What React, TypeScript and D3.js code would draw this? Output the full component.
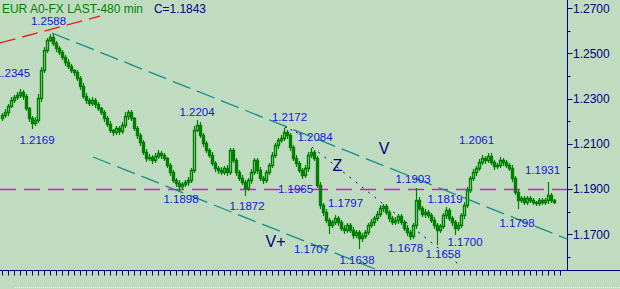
import React from "react";
import * as d3 from "d3";

const W = 620;
const H = 289;

// closing prices, one per 480-min bar
const closes = [
  1.2228, 1.2241, 1.2268, 1.2294, 1.2308, 1.2316, 1.233, 1.2312, 1.2259, 1.2215,
  1.2192, 1.2206, 1.2303, 1.2427, 1.2515, 1.256, 1.2573, 1.2546, 1.2524, 1.2507,
  1.2485, 1.2462, 1.2445, 1.2427, 1.2418, 1.2392, 1.2356, 1.2312, 1.2294, 1.2281,
  1.2294, 1.2277, 1.2259, 1.2241, 1.2215, 1.2188, 1.2162, 1.2153, 1.217, 1.2157,
  1.2184, 1.2224, 1.2241, 1.2215, 1.217, 1.2139, 1.2108, 1.2064, 1.2038, 1.2042,
  1.2029, 1.2046, 1.206, 1.2051, 1.2038, 1.2007, 1.1976, 1.194, 1.1927, 1.1914,
  1.1923, 1.1931, 1.194, 1.1985, 1.2162, 1.2184, 1.2139, 1.2104, 1.2073, 1.2051,
  1.2016, 1.1993, 1.1985, 1.1976, 1.1993, 1.1976, 1.2073, 1.2029, 1.1976, 1.1949,
  1.1931, 1.1905, 1.194, 1.1976, 1.2029, 1.1985, 1.1949, 1.194, 1.1976, 1.2007,
  1.2051, 1.2095, 1.2117, 1.2126, 1.2153, 1.2139, 1.2086, 1.2038, 1.2016, 1.1985,
  1.1962, 1.1993, 1.2051, 1.2064, 1.2038, 1.1918, 1.183, 1.1799, 1.1763, 1.1741,
  1.1754, 1.1772, 1.1754, 1.1728, 1.1719, 1.1741, 1.1719, 1.1697, 1.171, 1.1684,
  1.1692, 1.171, 1.1741, 1.1754, 1.1772, 1.179, 1.1816, 1.1825, 1.1799, 1.1772,
  1.1754, 1.1763, 1.1781, 1.1754, 1.1728, 1.171, 1.1692, 1.1741, 1.1852, 1.1816,
  1.179, 1.1799, 1.1785, 1.1763, 1.1741, 1.1719, 1.1737, 1.1785, 1.1808, 1.1772,
  1.1754, 1.1728, 1.1741, 1.1785, 1.183, 1.1896, 1.1949, 1.1976, 1.1993, 1.202,
  1.2038, 1.2029, 1.2046, 1.202, 1.2002, 1.2007, 1.2029, 1.202, 1.2007, 1.1993,
  1.1949, 1.1887, 1.1852, 1.1861, 1.1843, 1.1861, 1.1852, 1.1843, 1.1839, 1.1852,
  1.1843, 1.1852, 1.1874, 1.1852, 1.1843,
];
const firstOpen = 1.2215;

// wick lengths in pips above / below the candle body
const upperWick = [
  10, 12, 8, 15, 10, 12, 15, 8, 10, 6,
  8, 12, 20, 15, 12, 10, 15, 12, 10, 8,
  10, 8, 12, 10, 6, 8, 10, 12, 15, 10,
  12, 8, 10, 6, 8, 10, 12, 6, 10, 8,
  12, 15, 10, 8, 6, 10, 8, 10, 12, 15,
  10, 12, 15, 10, 8, 6, 10, 8, 10, 12,
  8, 10, 12, 10, 15, 20, 12, 10, 8, 10,
  12, 10, 8, 15, 10, 12, 8, 10, 8, 10,
  12, 8, 10, 15, 10, 8, 12, 10, 8, 10,
  12, 8, 10, 12, 19, 10, 8, 10, 12, 8,
  10, 12, 15, 20, 10, 8, 12, 10, 15, 8,
  10, 12, 8, 10, 12, 8, 10, 12, 8, 10,
  12, 10, 8, 12, 10, 15, 12, 10, 8, 10,
  8, 12, 10, 8, 10, 12, 8, 10, 51, 12,
  10, 12, 8, 10, 12, 10, 8, 10, 11, 10,
  8, 10, 12, 10, 12, 15, 10, 12, 10, 12,
  15, 10, 15, 12, 10, 8, 12, 10, 8, 10,
  12, 8, 10, 8, 10, 8, 10, 8, 6, 8,
  10, 8, 57, 8, 6,
];
const lowerWick = [
  10, 8, 12, 6, 10, 8, 10, 12, 10, 15,
  23, 10, 8, 12, 10, 8, 6, 10, 12, 10,
  8, 12, 10, 8, 12, 10, 15, 10, 12, 8,
  10, 12, 8, 10, 12, 10, 8, 12, 10, 15,
  8, 10, 12, 10, 8, 12, 15, 10, 12, 8,
  15, 10, 8, 12, 10, 8, 12, 10, 15, 16,
  10, 8, 12, 10, 8, 6, 10, 12, 10, 8,
  10, 12, 15, 10, 8, 12, 10, 8, 12, 10,
  8, 33, 10, 12, 8, 15, 10, 12, 8, 10,
  8, 10, 12, 8, 10, 12, 15, 10, 12, 10,
  15, 8, 12, 10, 8, 10, 15, 12, 10, 34,
  10, 8, 12, 10, 12, 10, 8, 12, 10, 46,
  12, 10, 8, 10, 12, 8, 10, 12, 10, 12,
  10, 8, 12, 10, 8, 12, 14, 10, 12, 10,
  8, 12, 10, 8, 12, 61, 10, 8, 12, 10,
  12, 28, 10, 8, 12, 10, 8, 10, 12, 8,
  10, 12, 8, 10, 12, 8, 10, 12, 10, 8,
  12, 10, 35, 8, 10, 8, 10, 8, 10, 8,
  8, 10, 12, 8, 6,
];

// right axis
const majorTicks = [1.27, 1.25, 1.23, 1.21, 1.19, 1.17];
const minorTicks = [1.26, 1.24, 1.22, 1.2, 1.18, 1.16];

// zigzag pivot labels: text, bar position, price level of baseline
const pivotTexts = ["1.2588", "1.2345", "1.2169", "1.2204", "1.1898", "1.1872", "1.2172", "1.2084", "1.1965", "1.1797", "1.1707", "1.1638", "1.1678", "1.1658", "1.1700", "1.1903", "1.1819", "1.2061", "1.1931", "1.1798"];
const pivotIdx = [15.33, 3.33, 11.5, 64.83, 59.5, 81.5, 95.67, 104.17, 97.67, 114.33, 103, 118.17, 134.33, 146.83, 154.17, 136.83, 147.5, 158, 180, 171.5];
const pivotLevel = [1.26261, 1.23973, 1.20982, 1.22248, 1.18372, 1.18075, 1.22027, 1.21142, 1.18827, 1.18221, 1.16159, 1.15686, 1.1623, 1.15938, 1.16482, 1.19257, 1.18398, 1.20982, 1.19668, 1.17336];

// wave marks
const waveTexts = ["V", "Z", "V+"];
const waveIdx = [127.17, 111.67, 91];
const waveLevel = [1.2054, 1.19814, 1.16451];

// drawn lines: [startIdx, startPrice, endIdx, endPrice]
const redLine = [-0.83, 1.25465, 32.5, 1.26659];
const upperChannel = [16.5, 1.25907, 188.17, 1.16792];
const lowerChannel = [30.17, 1.2042, 124.17, 1.15465];
const zLine = [103.17, 1.20863, 153.17, 1.15553];
const shortDotted = [94.17, 1.21748, 98.5, 1.21482];
const supportLevel = 1.19;

const BG = "#c0dcc0";
const GREEN = "#008000";
const NAVY = "#000080";
const LBL = "#1414e8";
const FONT = "Arial, 'Liberation Sans', sans-serif";

export default function App() {
  const x = d3.scaleLinear().domain([0, 184]).range([2.5, 554.5]);
  const y = d3.scaleLinear().domain([1.17, 1.27]).range([234.3, 8.3]);
  const axisX = 567.5;
  const bottomY = 270.5;
  const snap = (v: number) => Math.round(v) + 0.5;

  const candles = closes.map((c, i) => {
    const o = i === 0 ? firstOpen : closes[i - 1];
    const top = Math.max(o, c);
    const bot = Math.min(o, c);
    const hi = top + upperWick[i] / 10000;
    const lo = bot - lowerWick[i] / 10000;
    const cx = x(i);
    const yTop = snap(y(top));
    let yBot = snap(y(bot));
    if (yBot - yTop < 1) yBot = yTop + 1;
    const up = c >= o;
    return (
      <g key={i}>
        <line x1={cx} x2={cx} y1={Math.round(y(hi))} y2={Math.round(y(lo)) + 1} stroke={GREEN} strokeWidth={1.2} />
        <rect x={cx - 1} y={yTop} width={2} height={yBot - yTop} fill={up ? BG : GREEN} stroke={GREEN} strokeWidth={1.4} />
      </g>
    );
  });

  const seg = (l: number[], stroke: string, dash: string, w = 1) => (
    <line x1={x(l[0])} y1={y(l[1])} x2={x(l[2])} y2={y(l[3])} stroke={stroke} strokeWidth={w} strokeDasharray={dash} />
  );

  const bottomTicks = d3.range(0, 187, 2);
  const supY = snap(y(supportLevel));

  return (
    <svg width={W} height={H} style={{ position: "absolute", left: 0, top: 0, background: BG }} fontFamily={FONT}>
      <rect x={0} y={0} width={W} height={H} fill={BG} />
      <defs>
        <clipPath id="plot">
          <rect x={0} y={0} width={axisX} height={bottomY} />
        </clipPath>
      </defs>
      <g clipPath="url(#plot)">
        <line x1={0} x2={axisX} y1={supY} y2={supY} stroke="#e010e0" strokeWidth={1.6} strokeDasharray="16,8" />
        {seg(upperChannel, "#148c8c", "19,7", 1.3)}
        {seg(lowerChannel, "#148c8c", "19,7", 1.3)}
        {seg(redLine, "#f01818", "16,7", 1.3)}
        {seg(zLine, NAVY, "2,6", 1)}
        {seg(shortDotted, NAVY, "2,4", 1)}
        {candles}
        {pivotTexts.map((t, i) => (
          <text key={t + i} x={x(pivotIdx[i])} y={y(pivotLevel[i])} fill={LBL} fontSize={11.5} textAnchor="middle">{t}</text>
        ))}
        {waveTexts.map((t, i) => (
          <text key={t} x={x(waveIdx[i])} y={y(waveLevel[i])} fill={NAVY} fontSize={16} textAnchor="middle">{t}</text>
        ))}
      </g>

      <text x={2} y={13} fontSize={13} fill={GREEN} textLength={141} lengthAdjust="spacingAndGlyphs">EUR A0-FX LAST-480 min</text>
      <text x={154} y={13} fontSize={13} fill={NAVY} textLength={52} lengthAdjust="spacingAndGlyphs">C=1.1843</text>

      {/* right axis */}
      <line x1={axisX} x2={axisX} y1={0} y2={bottomY} stroke={NAVY} strokeWidth={1} />
      {majorTicks.map((t) => (
        <g key={t}>
          <line x1={axisX} x2={axisX + 5} y1={snap(y(t))} y2={snap(y(t))} stroke={NAVY} />
          <text x={axisX + 5.5} y={y(t)} dy="0.36em" fontSize={12} fill={NAVY}>{d3.format(".4f")(t)}</text>
        </g>
      ))}
      {minorTicks.map((t) => (
        <line key={t} x1={axisX} x2={axisX + 3} y1={snap(y(t))} y2={snap(y(t))} stroke={NAVY} />
      ))}

      {/* bottom axis */}
      <line x1={0} x2={W} y1={bottomY} y2={bottomY} stroke={NAVY} strokeWidth={1} />
      {bottomTicks.map((k) => (
        <line key={k} x1={x(k)} x2={x(k)} y1={bottomY} y2={bottomY + 5} stroke={NAVY} />
      ))}
      <line x1={15} x2={W} y1={287.5} y2={287.5} stroke="#eef6ee" strokeDasharray="1,1" />
    </svg>
  );
}
